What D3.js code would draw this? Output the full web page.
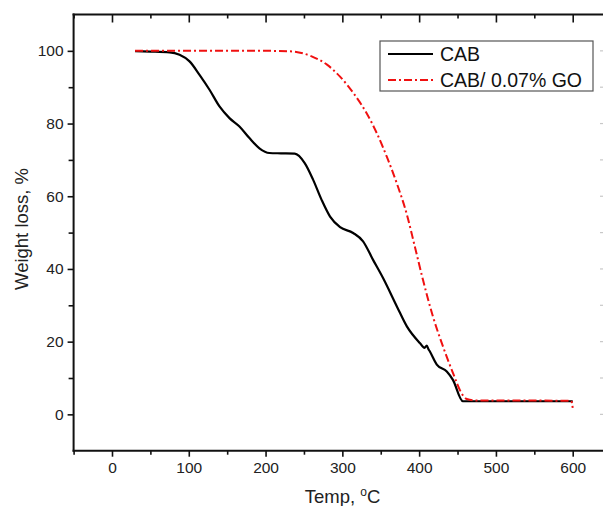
<!DOCTYPE html>
<html><head><meta charset="utf-8">
<script src="https://cdn.jsdelivr.net/npm/d3@7"></script>
<style>
body{margin:0;background:#fff;}
text{font-family:"Liberation Sans",Arial,sans-serif;}
</style></head>
<body>
<svg id="c" width="603" height="506"></svg>
<script>
// Data (Temp °C, Weight %)
const cabTemp = [30, 50, 75, 88, 101, 114, 127, 140, 153, 166, 179, 192, 205, 220, 238, 251, 262, 273, 284, 297, 314, 327, 340, 353, 371, 384, 401, 407, 410, 412, 414, 423, 436, 444, 457, 470, 500, 550, 600];
const cabWeight = [99.9, 99.8, 99.6, 98.9, 97.1, 93.4, 89.3, 84.7, 81.5, 79.2, 76.0, 73.2, 71.9, 71.8, 71.7, 69.1, 64.5, 59.0, 54.4, 51.5, 49.9, 47.6, 42.5, 37.5, 29.7, 24.2, 19.6, 18.3, 18.9, 18.0, 17.3, 13.7, 11.8, 9.5, 3.6, 3.6, 3.6, 3.6, 3.6];
const goTemp = [30, 100, 150, 200, 230, 245, 260, 280, 297, 314, 332, 345, 358, 371, 384, 394, 405, 418, 431, 444, 455, 462, 475, 500, 550, 598, 600];
const goWeight = [100, 100, 100, 100, 99.9, 99.5, 98.5, 96.2, 92.9, 88.5, 82.7, 77.3, 70.8, 63.5, 55.0, 46.5, 37.0, 26.9, 18.7, 11.4, 5.9, 4.2, 3.8, 3.8, 3.8, 3.7, 1.8];
const xMajor = [0, 100, 200, 300, 400, 500, 600];
const xMinor = [-50, 50, 150, 250, 350, 450, 550, 650];
const yMajor = [0, 20, 40, 60, 80, 100];
const yMinor = [-10, 10, 30, 50, 70, 90, 110];
const seriesNames = ["CAB", "CAB/ 0.07% GO"];

const svg = d3.select("#c");
const x = d3.scaleLinear().domain([-50, 650]).range([73.6, 611.1]);
const y = d3.scaleLinear().domain([-10, 110]).range([450.7, 14.5]);
const L = 73.6, T = 14.5, B = 450.7;

function styleAxis(g){
  g.select(".domain").remove();
  g.selectAll("line").attr("stroke","#111").attr("stroke-width",1.6);
  g.selectAll("text").attr("fill","#222").style("font-size","15.5px").style("font-family","'Liberation Sans',Arial,sans-serif");
}
// bottom axis
svg.append("g").attr("transform",`translate(0,${B})`)
  .call(d3.axisBottom(x).tickValues(xMajor).tickSize(6).tickPadding(5).tickFormat(d3.format("d")))
  .call(styleAxis);
svg.append("g").attr("transform",`translate(0,${B})`)
  .call(d3.axisBottom(x).tickValues(xMinor).tickSize(4).tickFormat(""))
  .call(styleAxis);
// top axis (inward ticks)
svg.append("g").attr("transform",`translate(0,${T})`)
  .call(d3.axisBottom(x).tickValues(xMajor).tickSize(8).tickFormat(""))
  .call(styleAxis);
svg.append("g").attr("transform",`translate(0,${T})`)
  .call(d3.axisBottom(x).tickValues(xMinor).tickSize(4).tickFormat(""))
  .call(styleAxis);
// left axis
svg.append("g").attr("transform",`translate(${L},0)`)
  .call(d3.axisLeft(y).tickValues(yMajor).tickSize(6).tickPadding(4).tickFormat(d3.format("d")))
  .call(styleAxis);
svg.append("g").attr("transform",`translate(${L},0)`)
  .call(d3.axisLeft(y).tickValues(yMinor.filter(v=>v>-10 && v<110)).tickSize(5).tickFormat(""))
  .call(styleAxis);
// faint right-edge tick remnants
svg.append("g").selectAll("line").data(yMajor.concat(yMinor).filter(v=>v>-10&&v<110)).join("line")
  .attr("x1",600).attr("x2",603).attr("y1",d=>y(d)).attr("y2",d=>y(d))
  .attr("stroke","#c8c8c8").attr("stroke-width",1.2);

// frame
svg.append("line").attr("x1",L).attr("x2",L).attr("y1",T-1).attr("y2",B+1).attr("stroke","#111").attr("stroke-width",2);
svg.append("line").attr("x1",L-1).attr("x2",603).attr("y1",B).attr("y2",B).attr("stroke","#111").attr("stroke-width",2);
svg.append("line").attr("x1",L-1).attr("x2",603).attr("y1",T).attr("y2",T).attr("stroke","#111").attr("stroke-width",2);

const line = d3.line().x(d=>x(d[0])).y(d=>y(d[1])).curve(d3.curveMonotoneX);
const goData = goTemp.map((t,i)=>[t,goWeight[i]]);
const cabData = cabTemp.map((t,i)=>[t,cabWeight[i]]);
svg.append("path").datum(cabData).attr("d",line).attr("fill","none")
  .attr("stroke","#000").attr("stroke-width",2.2).attr("stroke-linejoin","round");
svg.append("path").datum(goData).attr("d",line).attr("fill","none")
  .attr("stroke","#f01010").attr("stroke-width",2).attr("stroke-dasharray","8,3,2,3");

// legend
const lg = svg.append("g");
lg.append("rect").attr("x",380).attr("y",41).attr("width",213).attr("height",50)
  .attr("fill","#fff").attr("stroke","#555").attr("stroke-width",1.2);
lg.append("line").attr("x1",388).attr("x2",433).attr("y1",54).attr("y2",54).attr("stroke","#000").attr("stroke-width",2.2);
lg.append("line").attr("x1",388).attr("x2",433).attr("y1",80).attr("y2",80).attr("stroke","#f01010").attr("stroke-width",2).attr("stroke-dasharray","8,3,2,3");
lg.append("text").attr("x",440).attr("y",60.5).text(seriesNames[0]).style("font-size","19.5px").attr("fill","#111");
lg.append("text").attr("x",440).attr("y",86.5).text(seriesNames[1]).style("font-size","19.5px").attr("fill","#111");

// axis titles
const xt = svg.append("text").attr("x",342.5).attr("y",503).attr("text-anchor","middle").style("font-size","18.5px").attr("fill","#222");
xt.append("tspan").text("Temp, ");
xt.append("tspan").text("o").attr("dy",-7).style("font-size","12px");
xt.append("tspan").text("C").attr("dy",7);
svg.append("text").attr("transform","translate(28,229) rotate(-90)").attr("text-anchor","middle")
  .style("font-size","18.5px").attr("fill","#222").text("Weight loss, %");
</script>
</body></html>
